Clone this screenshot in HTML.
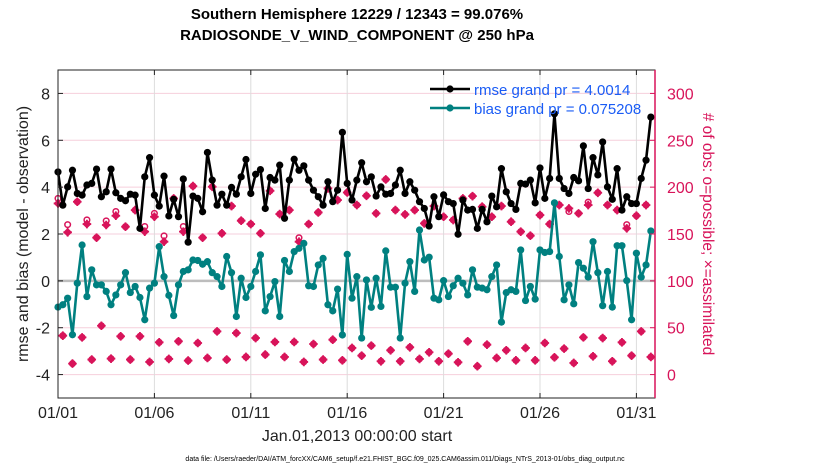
<!DOCTYPE html>
<html><head><meta charset="utf-8"><style>
body{margin:0;background:#fff;width:830px;height:470px;overflow:hidden;font-family:"Liberation Sans",sans-serif}
</style></head><body>
<svg id="chart" width="830" height="470" xmlns="http://www.w3.org/2000/svg" font-family="Liberation Sans, sans-serif">
<g id="g"></g>
</svg>
<script>
const xTickLabels=["01/01","01/06","01/11","01/16","01/21","01/26","01/31"];
const xTickDays=[1,6,11,16,21,26,31];
const yTicksLeft=[-4,-2,0,2,4,6,8];
const yTicksRight=[0,50,100,150,200,250,300];
const rmse=[4.65,3.23,4.01,4.72,3.73,3.66,4.09,4.16,4.77,3.59,3.80,4.77,3.76,3.52,3.42,3.70,3.66,2.24,4.44,5.26,3.66,3.19,4.47,2.77,3.48,2.74,4.35,1.65,3.62,3.52,2.95,5.48,
4.30,3.23,3.70,3.23,3.99,3.70,4.44,5.18,3.73,4.55,4.75,3.09,4.41,4.30,4.94,2.67,4.30,5.19,4.72,4.91,4.30,3.87,3.59,3.23,4.23,3.38,3.87,6.34,4.16,3.45,4.30,
5.04,4.23,4.44,3.62,4.01,3.70,3.73,4.09,4.72,3.73,4.23,3.87,3.38,3.09,2.34,3.59,2.74,3.67,3.38,3.30,1.99,3.45,3.02,3.05,2.24,3.05,2.52,3.62,3.16,4.79,3.80,
3.30,3.05,4.16,4.13,4.30,3.33,4.82,3.52,4.37,7.13,4.37,3.94,3.73,4.41,4.27,5.76,3.94,5.26,4.52,5.93,4.01,3.48,4.79,3.02,3.59,3.30,3.30,4.37,5.15,6.99];
const bias=[-1.12,-1.02,-0.74,-2.30,-0.10,1.53,-0.67,0.47,-0.17,-0.17,-0.45,-1.02,-0.60,-0.17,0.35,-0.50,-0.24,-0.71,-1.66,-0.31,-0.10,1.46,0.18,-0.62,-1.48,-0.17,0.40,0.47,0.89,0.87,0.71,0.82,
0.35,0.18,-0.24,1.04,0.35,-1.52,0.11,-0.71,-0.24,0.40,1.11,-1.28,-0.67,-0.03,-1.52,0.87,0.40,1.25,1.39,1.60,-0.21,-0.24,0.68,0.96,-1.02,-1.28,-0.35,-2.31,1.13,-0.74,0.18,
-2.44,0.04,-1.13,0.11,-1.09,1.28,-0.27,-0.27,-2.44,-0.10,0.82,-0.45,2.17,0.89,1.01,-0.74,-0.81,0.01,-0.67,-0.21,0.11,-0.10,-0.60,0.47,-0.27,-0.31,-0.38,0.18,0.68,-1.76,-0.50,
-0.38,-0.45,1.32,-0.84,-0.24,-0.78,1.32,1.21,1.25,3.33,1.04,-0.81,-0.17,-0.98,0.78,0.54,0.16,1.67,0.35,-1.06,0.40,-1.12,1.50,1.50,0.01,-1.66,1.18,0.16,0.68,2.13];
const nAssim=[182.6,41.5,151.8,11.7,184.4,39.7,160.6,16.0,146.1,52.1,159.6,17.0,169.5,40.8,157.8,16.0,175.5,40.8,152.5,13.5,168.4,34.4,141.8,16.7,187.9,35.5,152.5,14.9,201.1,33.7,146.1,17.7,
200.4,46.1,150.7,16.0,179.8,44.3,164.2,18.8,160.6,39.0,150.7,21.3,196.1,34.8,171.3,18.8,175.5,34.8,141.8,13.5,160.6,32.6,173.0,16.0,198.6,37.2,186.2,15.2,194.3,28.4,180.9,
20.2,190.8,30.9,172.0,14.2,208.2,25.9,175.5,14.2,170.9,29.1,175.5,16.7,161.3,23.8,179.8,14.2,168.4,22.3,164.9,13.1,187.9,35.5,190.4,8.9,179.1,31.9,168.4,17.7,179.8,25.9,
163.1,15.2,152.5,28.4,148.2,15.2,170.2,33.7,160.6,18.4,180.9,27.7,177.3,12.4,172.0,39.7,180.9,19.5,194.0,39.0,180.9,14.2,175.5,34.4,156.0,20.2,169.5,46.1,180.9,18.8];
const nPossible=[188,41.5,160,11.7,184.4,39.7,165,16.0,146.1,52.1,164,17.0,174,40.8,157.8,16.0,175.5,40.8,158,13.5,172,34.4,148,16.7,187.9,35.5,158,14.9,201.1,33.7,146.1,17.7,
200.4,46.1,150.7,16.0,179.8,44.3,164.2,18.8,160.6,39.0,150.7,21.3,196.1,34.8,171.3,18.8,175.5,34.8,146,13.5,160.6,32.6,173.0,16.0,198.6,37.2,186.2,15.2,194.3,28.4,180.9,
20.2,190.8,30.9,172.0,14.2,208.2,25.9,175.5,14.2,170.9,29.1,175.5,16.7,161.3,23.8,179.8,14.2,168.4,22.3,164.9,13.1,187.9,35.5,190.4,8.9,179.1,31.9,168.4,17.7,179.8,25.9,
163.1,15.2,152.5,28.4,148.2,15.2,170.2,33.7,160.6,18.4,180.9,27.7,174,12.4,172.0,39.7,184,19.5,194.0,39.0,180.9,14.2,175.5,34.4,160,20.2,169.5,46.1,180.9,18.8];

const L=58,R=655,T=70,B=398;
const xDay=d=>L+(d-1)*19.28;
const xIdx=i=>xDay(1+i*0.25);
const yL=v=>B-(v+5)/14*(B-T);
const yR=v=>yL(v/25-4);
const NS="http://www.w3.org/2000/svg";
const g=document.getElementById('g');
function mk(tag,attrs,parent){const e=document.createElementNS(NS,tag);for(const k in attrs)e.setAttribute(k,attrs[k]);(parent||g).appendChild(e);return e;}

const bg=mk('rect',{x:L,y:T,width:R-L,height:B-T,fill:'#fff'});


yTicksRight.forEach(v=>{const l=mk('line',{x1:L,x2:R,y1:yR(v),y2:yR(v),stroke:'#f6cfdc','stroke-width':1});

});
xTickDays.forEach(d=>{const l=mk('line',{x1:xDay(d),x2:xDay(d),y1:T,y2:B,stroke:'#dcdcdc','stroke-width':1});

});
const z=mk('line',{x1:L,x2:R,y1:yL(0),y2:yL(0),stroke:'#bdbdbd','stroke-width':2.5});



nPossible.forEach((v,i)=>{const c=mk('circle',{cx:xIdx(i),cy:yR(v),r:2.8,fill:'none',stroke:'#d8145a','stroke-width':1.5});

});
nAssim.forEach((v,i)=>{const x=xIdx(i),y=yR(v);
const p=mk('path',{d:`M${x-3.2},${y}L${x},${y-3.2}L${x+3.2},${y}L${x},${y+3.2}Z M${x-4.3},${y}h8.6 M${x},${y-4.3}v8.6`,fill:'#d8145a',stroke:'#d8145a','stroke-width':1.8,'stroke-linejoin':'round'});

});

function series(arr,color,name){
 const pl=mk('polyline',{points:arr.map((v,i)=>xIdx(i)+','+yL(v)).join(' '),fill:'none',stroke:color,'stroke-width':2.6,'stroke-linejoin':'round'});
 
 
 arr.forEach((v,i)=>{const c=mk('circle',{cx:xIdx(i),cy:yL(v),r:3.6,fill:color});
 
 });
}
series(bias,'#008080','bias');
series(rmse,'#000000','rmse');

const fr=mk('rect',{x:L,y:T,width:R-L,height:B-T,fill:'none',stroke:'#222','stroke-width':1});


const rs=mk('line',{x1:R,x2:R,y1:T,y2:B,stroke:'#d8145a','stroke-width':1.5});



yTicksLeft.forEach(v=>{const y=yL(v);
mk('line',{x1:L,x2:L+5,y1:y,y2:y,stroke:'#222'});
const t=mk('text',{x:L-8,y:y+6,'text-anchor':'end','font-size':16,fill:'#222'});t.textContent=v;

});
yTicksRight.forEach(v=>{const y=yR(v);
mk('line',{x1:R-5,x2:R,y1:y,y2:y,stroke:'#d8145a'});
const t=mk('text',{x:R+12,y:y+6,'font-size':16,fill:'#d8145a'});t.textContent=v;

});
xTickDays.forEach((d,k)=>{const x=xDay(d);
mk('line',{x1:x,x2:x,y1:B-5,y2:B,stroke:'#222'});mk('line',{x1:x,x2:x,y1:T,y2:T+5,stroke:'#222'});
const t=mk('text',{x:x,y:B+20,'text-anchor':'middle','font-size':16,fill:'#222'});t.textContent=xTickLabels[k];

});

function txt(s,attrs,name){const t=mk('text',attrs);t.textContent=s;

return t;}
txt('Southern Hemisphere 12229 / 12343 = 99.076%',{x:357,y:19,'text-anchor':'middle','font-size':15,'font-weight':'bold',fill:'#000'},'chart-title-line1');
txt('RADIOSONDE_V_WIND_COMPONENT @ 250 hPa',{x:357,y:40,'text-anchor':'middle','font-size':15,'font-weight':'bold',fill:'#000'},'chart-title-line2');
txt('rmse and bias (model - observation)',{x:0,y:0,transform:'translate(28,234) rotate(-90)','text-anchor':'middle','font-size':16,fill:'#222'},'y-left-axis-title');
txt('# of obs: o=possible; \u00d7=assimilated',{x:0,y:0,transform:'translate(703,234) rotate(90)','text-anchor':'middle','font-size':15.5,fill:'#d8145a'},'y-right-axis-title');
txt('Jan.01,2013 00:00:00 start',{x:357,y:441,'text-anchor':'middle','font-size':16,fill:'#222'},'x-axis-title');
txt('data file: /Users/raeder/DAI/ATM_forcXX/CAM6_setup/f.e21.FHIST_BGC.f09_025.CAM6assim.011/Diags_NTrS_2013-01/obs_diag_output.nc',{x:405,y:461,'text-anchor':'middle','font-size':7,fill:'#000'},'data-file-note');

const lg=mk('g',{});


mk('line',{x1:430,x2:470,y1:89,y2:89,stroke:'#000','stroke-width':2.6},lg);mk('circle',{cx:450,cy:89,r:3.6,fill:'#000'},lg);
mk('line',{x1:430,x2:470,y1:108,y2:108,stroke:'#008080','stroke-width':2.6},lg);mk('circle',{cx:450,cy:108,r:3.6,fill:'#008080'},lg);
const t1=mk('text',{x:474,y:95,'font-size':15,fill:'#1a5cf5'},lg);t1.textContent='rmse grand pr = 4.0014';


const t2=mk('text',{x:474,y:114,'font-size':15,fill:'#1a5cf5'},lg);t2.textContent='bias grand pr = 0.075208';


</script>
</body></html>
